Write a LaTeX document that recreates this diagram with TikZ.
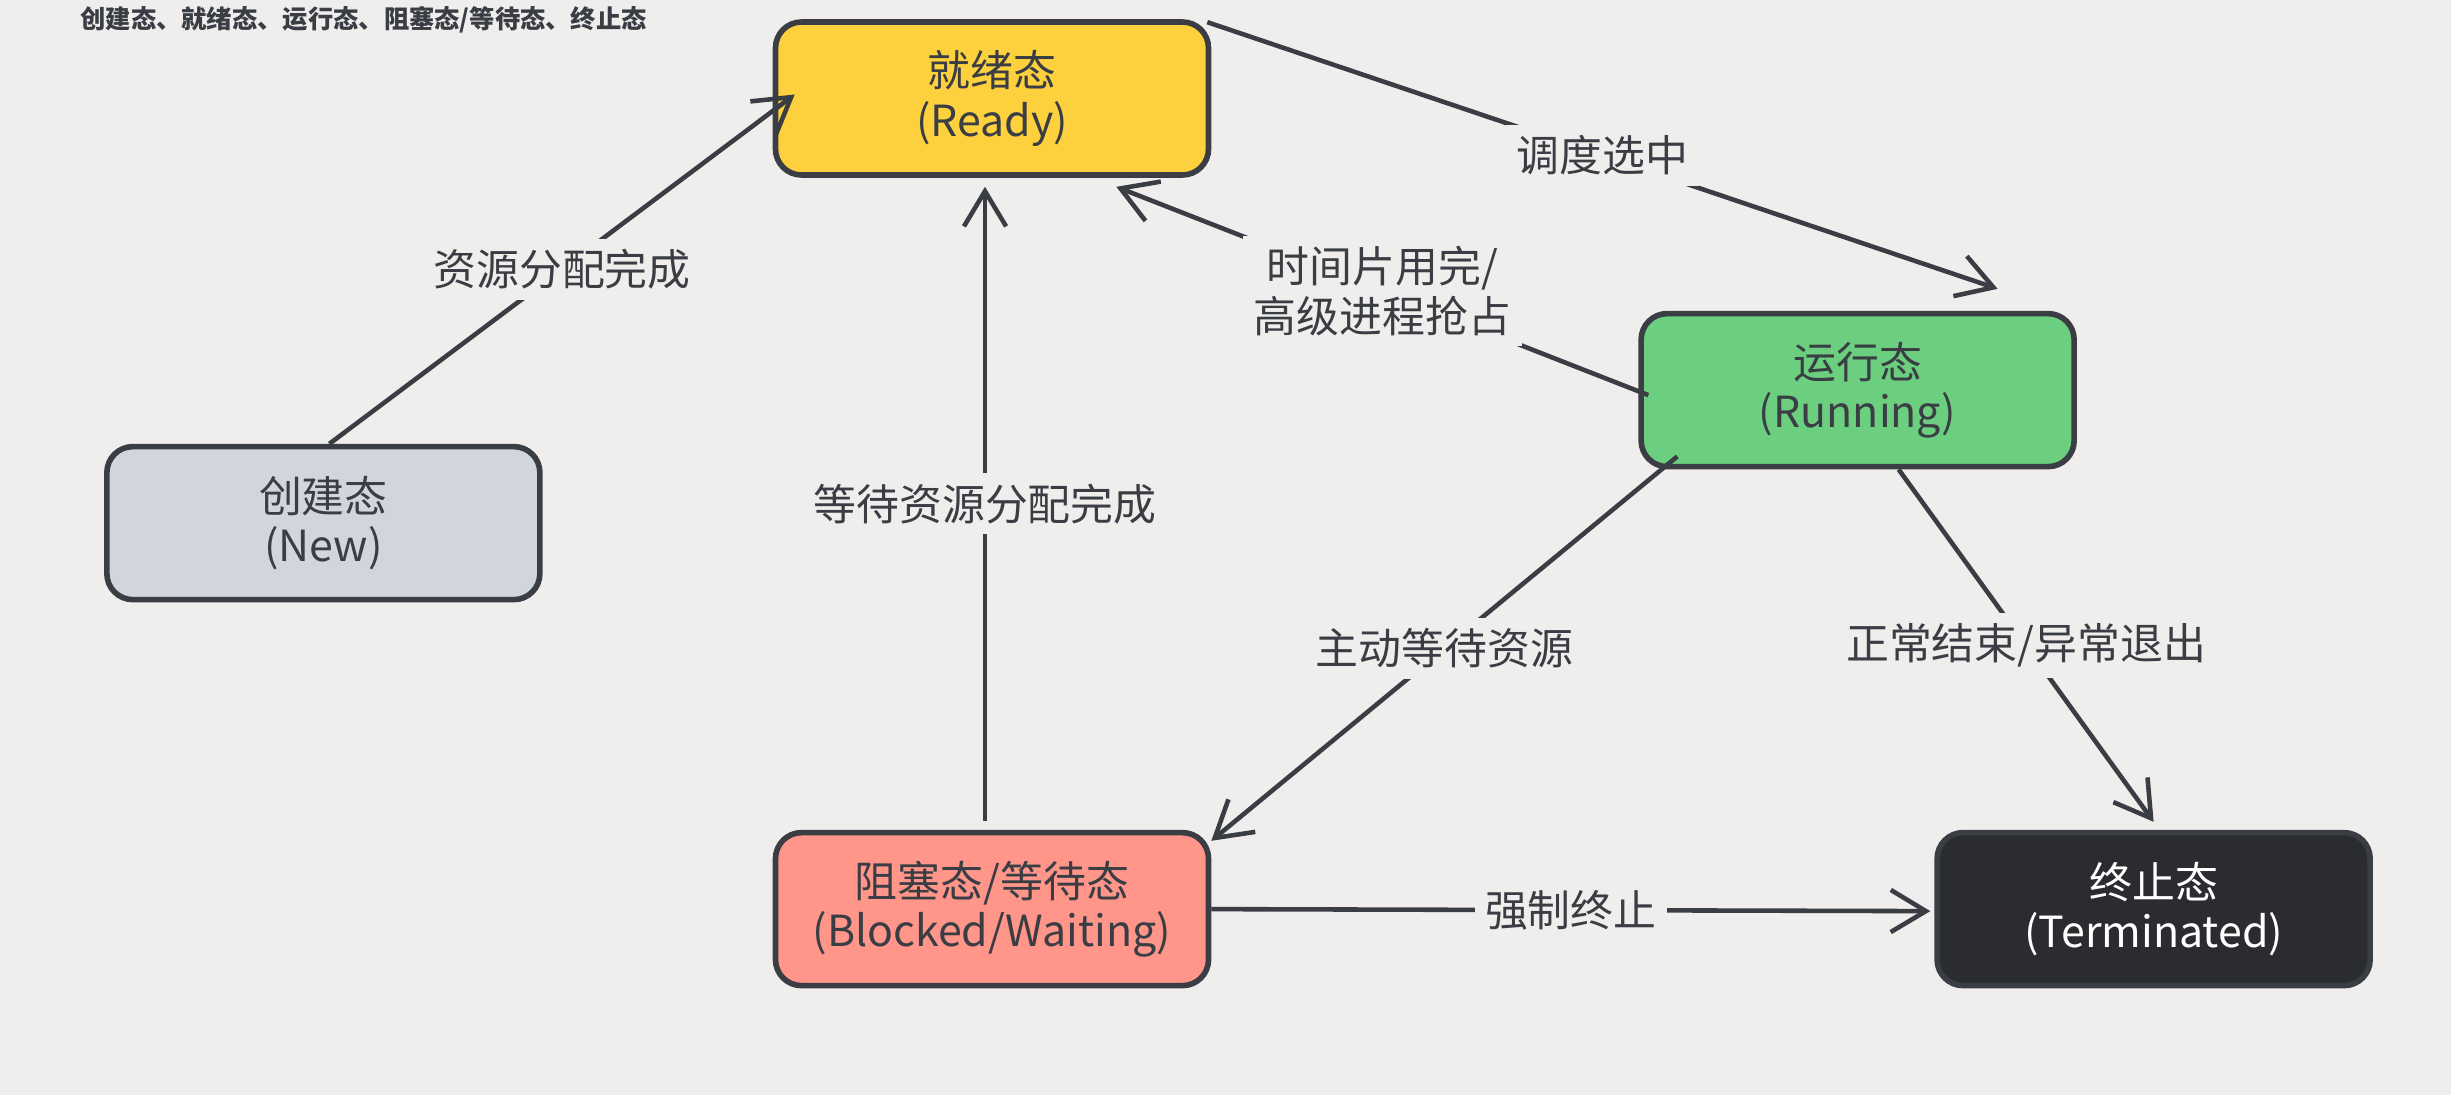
\documentclass[tikz,border=0pt]{standalone}
\usepackage{fontspec}
\setmainfont{Noto Sans CJK SC}
\usepackage{xcolor}
\usepackage{tikz}
\usetikzlibrary{positioning,arrows.meta,calc}
\definecolor{bgcol}{HTML}{EFEEEC}
\definecolor{ink}{HTML}{3A3E44}
\definecolor{readycol}{HTML}{FDD03E}
\definecolor{runcol}{HTML}{6BCF7F}
\definecolor{newcol}{HTML}{D1D6DD}
\definecolor{blockcol}{HTML}{FF9689}
\definecolor{termcol}{HTML}{2A2C2F}
\newcommand{\lblfont}{\fontsize{12.2}{14}\selectfont}
\newcommand{\capfont}{\fontsize{7.2}{8}\selectfont\bfseries}

\begin{document}
\begin{tikzpicture}[
    node distance=1cm and 1cm,
    statebox/.style={rectangle,draw=ink,line width=1.6pt,rounded corners=0.26cm,
                     minimum width=4.33cm,minimum height=1.53cm,align=center,
                     text=ink,font=\lblfont},
    arrow/.style={-{Straight Barb[length=10pt,width=12pt]},line width=1.3pt,draw=ink},
    lbl/.style={fill=bgcol,text=ink,font=\lblfont,inner sep=3pt,align=center}
]
\useasboundingbox (0,0) rectangle (24.51,-10.95);
\fill[bgcol] (0,0) rectangle (24.51,-10.95);

\node[anchor=west,text=ink,font=\capfont] (caption) at (0.68,-0.20)
    {创建态、就绪态、运行态、阻塞态/等待态、终止态};

\node[statebox,fill=readycol] (ready) at (9.92,-0.985) {就绪态\\(Ready)};
\node[statebox,fill=newcol,below left=2.66cm and 2.30cm of ready] (new) {创建态\\(New)};
\node[statebox,fill=runcol,below right=1.33cm and 4.27cm of ready] (running) {运行态\\(Running)};
\node[statebox,fill=blockcol,below=6.52cm of ready] (blocked) {阻塞态/等待态\\(Blocked/Waiting)};
\node[statebox,fill=termcol,text=white,right=7.23cm of blocked] (term) {终止态\\(Terminated)};

\draw[arrow] ($(new.north)+(0.06,0)$) -- node[lbl]{资源分配完成} ($(ready.west)+(0.22,0.04)$);
\draw[arrow] ($(ready.north east)+(-0.04,-0.03)$) -- node[lbl]{调度选中} ($(running.north)+(1.40,0.22)$);
\draw[arrow] ($(running.west)+(0.10,-0.05)$) -- node[lbl]{时间片用完/\\高级进程抢占} ($(ready.south east)+(-0.95,-0.09)$);
\draw[arrow] ($(blocked.north)+(-0.07,0.09)$) -- node[lbl]{等待资源分配完成} ($(ready.south)+(-0.07,-0.09)$);
\draw[arrow] ($(running.south west)+(0.39,0.13)$) -- node[lbl]{主动等待资源} ($(blocked.north east)+(0,-0.11)$);
\draw[arrow] ($(running.south)+(0.41,0)$) -- node[lbl]{正常结束/异常退出} ($(term.north)+(0,0.08)$);
\draw[arrow] (blocked.east) -- node[lbl]{强制终止} ($(term.west)+(-0.04,-0.02)$);
\end{tikzpicture}
\end{document}
